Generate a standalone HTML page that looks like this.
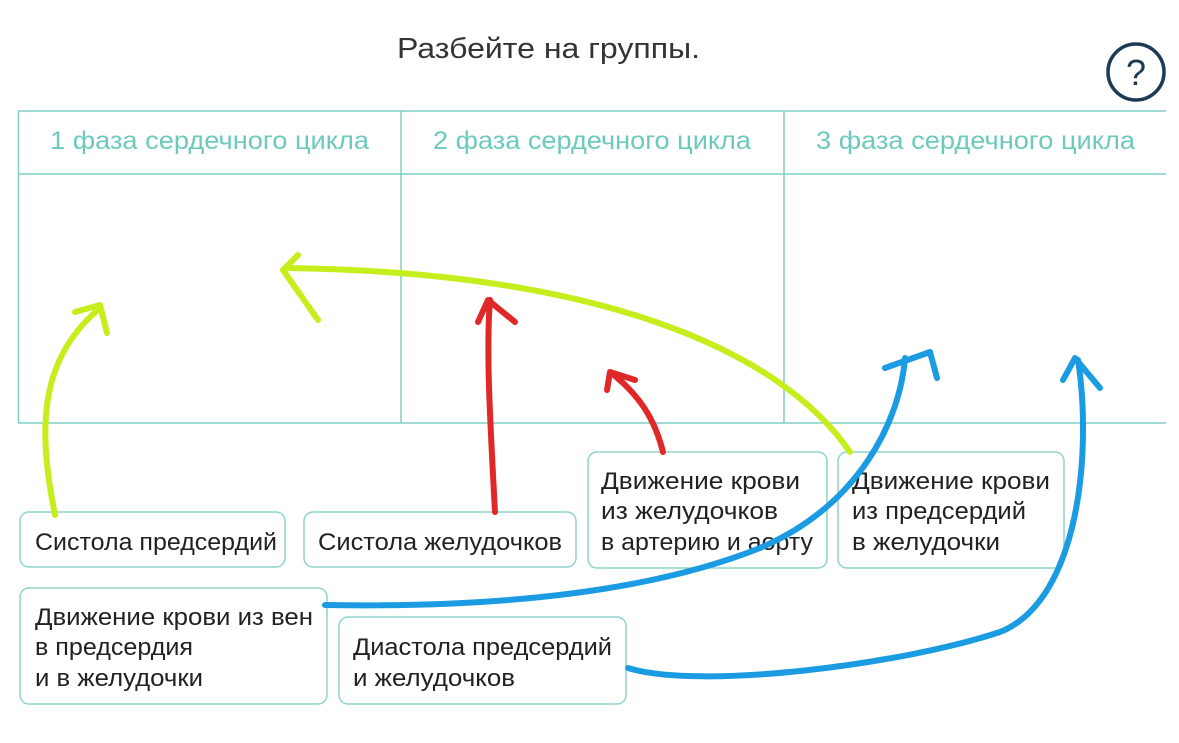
<!DOCTYPE html>
<html><head><meta charset="utf-8"><style>
body{margin:0;width:1179px;height:743px;background:#fff;overflow:hidden;font-family:"Liberation Sans","DejaVu Sans",sans-serif;}
</style></head><body>
<svg width="1179" height="743" xmlns="http://www.w3.org/2000/svg" style="position:absolute;left:0;top:0">
<text x="397" y="58" font-size="29" fill="#333" textLength="303" lengthAdjust="spacingAndGlyphs" font-family="Liberation Sans, sans-serif">Разбейте на группы.</text>
<circle cx="1136" cy="72" r="28" fill="none" stroke="#1c3a55" stroke-width="3.5"/>
<text x="1136" y="85" text-anchor="middle" font-size="36" fill="#1c3a55" font-family="Liberation Sans, sans-serif">?</text>
<g stroke="#7fcfc7" stroke-width="1.5" fill="none">
<line x1="18" y1="111" x2="1166" y2="111"/>
<line x1="18" y1="174" x2="1166" y2="174"/>
<line x1="18" y1="423" x2="1166" y2="423"/>
<line x1="18.5" y1="111" x2="18.5" y2="423"/>
<line x1="401" y1="111" x2="401" y2="423"/>
<line x1="784" y1="111" x2="784" y2="423"/>
</g>
<g font-size="25" fill="#6ccabd" font-family="Liberation Sans, sans-serif" lengthAdjust="spacingAndGlyphs">
<text x="50" y="149" textLength="319" lengthAdjust="spacingAndGlyphs">1 фаза сердечного цикла</text>
<text x="433" y="149" textLength="318" lengthAdjust="spacingAndGlyphs">2 фаза сердечного цикла</text>
<text x="816" y="149" textLength="319" lengthAdjust="spacingAndGlyphs">3 фаза сердечного цикла</text>
</g>
<g stroke="#8fd3cc" stroke-width="1.5" fill="#fff">
<rect x="20" y="512" width="265" height="55" rx="9"/>
<rect x="304" y="512" width="272" height="55" rx="9"/>
<rect x="588" y="452" width="239" height="116" rx="9"/>
<rect x="838" y="452" width="226" height="116" rx="9"/>
<rect x="20" y="588" width="307" height="116" rx="9"/>
<rect x="339" y="617" width="287" height="87" rx="9"/>
</g>
<g font-size="24" fill="#222" font-family="Liberation Sans, sans-serif">
<text x="35" y="550" textLength="242" lengthAdjust="spacingAndGlyphs">Систола предсердий</text>
<text x="318" y="550" textLength="244" lengthAdjust="spacingAndGlyphs">Систола желудочков</text>
<text x="601" y="489" textLength="199" lengthAdjust="spacingAndGlyphs">Движение крови</text>
<text x="601" y="519" textLength="177" lengthAdjust="spacingAndGlyphs">из желудочков</text>
<text x="601" y="550" textLength="212" lengthAdjust="spacingAndGlyphs">в артерию и аорту</text>
<text x="852" y="489" textLength="198" lengthAdjust="spacingAndGlyphs">Движение крови</text>
<text x="852" y="519" textLength="174" lengthAdjust="spacingAndGlyphs">из предсердий</text>
<text x="852" y="550" textLength="148" lengthAdjust="spacingAndGlyphs">в желудочки</text>
<text x="35" y="625" textLength="278" lengthAdjust="spacingAndGlyphs">Движение крови из вен</text>
<text x="35" y="655" textLength="158" lengthAdjust="spacingAndGlyphs">в предсердия</text>
<text x="35" y="686" textLength="168" lengthAdjust="spacingAndGlyphs">и в желудочки</text>
<text x="353" y="655" textLength="259" lengthAdjust="spacingAndGlyphs">Диастола предсердий</text>
<text x="353" y="686" textLength="162" lengthAdjust="spacingAndGlyphs">и желудочков</text>
</g>
<g fill="none" stroke-width="6" stroke-linecap="round" stroke-linejoin="round">
<path d="M55,515 C38,430 38,360 100,308 M75,312 L100,305 L107,333" stroke="#c5ee1c"/>
<path d="M850,452 C780,350 600,272 285,268 M298,255 L283,270 L318,320" stroke="#c5ee1c"/>
<path d="M495,512 C490,420 486,350 490,300 M478,322 L488,300 L515,322" stroke="#e02828"/>
<path d="M663,452 C655,420 640,395 610,372 M607,390 L610,372 L635,380" stroke="#e02828"/>
<path d="M325,605 C500,608 650,592 760,548 C860,505 900,420 905,358 M885,368 L930,352 L937,378" stroke="#1a9be2"/>
<path d="M628,668 C700,690 900,665 1000,632 C1080,600 1092,450 1078,360 M1063,380 L1075,358 L1100,388" stroke="#1a9be2"/>
</g>
</svg>
</body></html>
